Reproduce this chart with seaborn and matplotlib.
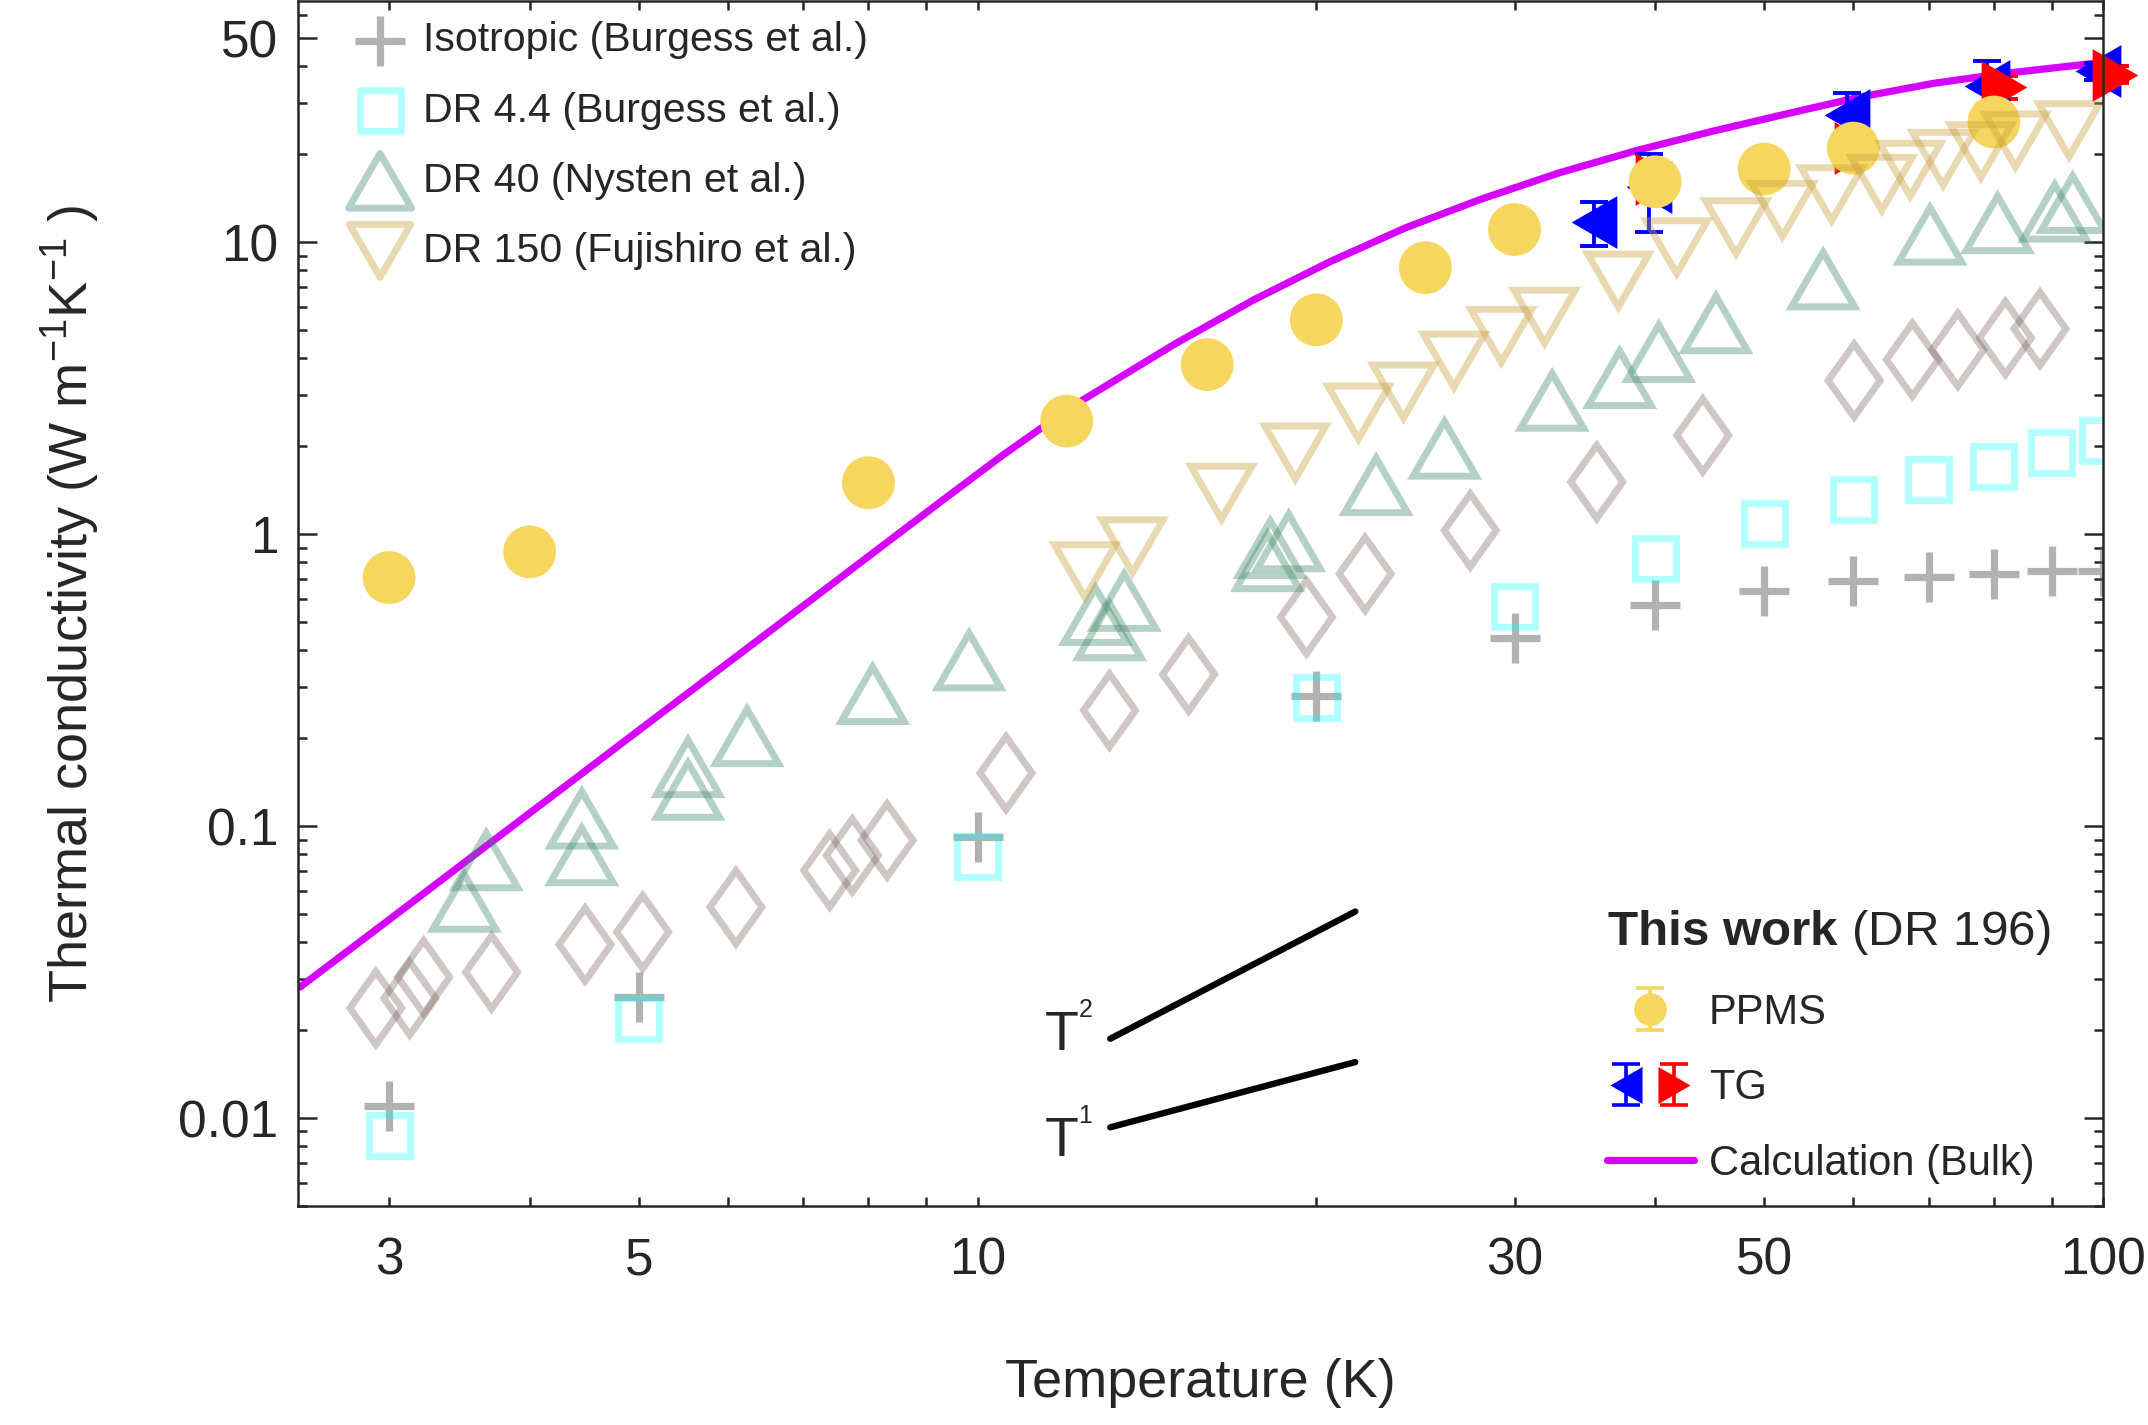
import numpy as np
import pandas as pd
import matplotlib
matplotlib.use("Agg")
import matplotlib.pyplot as plt
from matplotlib.path import Path
from matplotlib.legend_handler import HandlerTuple
from matplotlib.ticker import FixedLocator, FixedFormatter, NullFormatter
from matplotlib.container import ErrorbarContainer
from matplotlib.lines import Line2D
from matplotlib.collections import LineCollection
import seaborn as sns

# ---------------- data ----------------
iso_T = [3, 5, 10, 20, 30, 40, 50, 60, 70, 80, 90, 100]
iso_k = [0.011, 0.026, 0.092, 0.28, 0.44, 0.57, 0.64, 0.69, 0.715, 0.73, 0.745, 0.75]

dr44_T = [3, 5, 10, 20, 30, 40, 50, 60, 70, 80, 90, 100]
dr44_k = [0.0087, 0.022, 0.0786, 0.275, 0.565, 0.825, 1.09, 1.31, 1.54, 1.70, 1.91, 2.10]

dr40_T = [3.50, 3.66, 4.45, 4.45, 5.53, 5.53, 6.24, 8.07, 9.83, 12.73, 13.1, 13.5,
          18.1, 18.2, 18.9, 22.6, 26.0, 32.4, 37.2, 40.3, 45.3, 56.4, 70.2, 80.6, 90.6, 94.0]
dr40_k = [0.055, 0.0763, 0.0794, 0.106, 0.133, 0.159, 0.203, 0.283, 0.369, 0.528, 0.468, 0.59,
          0.807, 0.895, 0.944, 1.47, 1.96, 2.86, 3.42, 4.2, 5.27, 7.45, 10.6, 11.6, 12.7, 13.6]

dr150_T = [12.46, 13.73, 16.47, 19.16, 21.8, 23.9, 26.5, 29.2, 31.9, 37.1, 41.8, 47.2,
           51.9, 57.4, 63.6, 67.4, 72.1, 77.9, 83.6, 93.3]
dr150_k = [0.747, 0.909, 1.387, 1.905, 2.61, 3.08, 3.93, 4.78, 5.56, 7.39, 9.61, 11.26,
           12.9, 14.6, 15.85, 17.7, 19.3, 20.5, 22.3, 24.2]

dia_T = [2.92, 3.13, 3.22, 3.70, 4.48, 5.04, 6.10, 7.39, 7.74, 8.31, 10.6, 13.1, 15.4,
         19.6, 22.1, 27.4, 35.5, 44.1, 60.1, 67.7, 74.3, 81.9, 87.9]
dia_k = [0.0238, 0.0257, 0.0304, 0.0316, 0.0393, 0.0434, 0.0528, 0.0705, 0.0794, 0.0894,
         0.152, 0.249, 0.331, 0.52, 0.731, 1.03, 1.51, 2.18, 3.36, 3.96, 4.28, 4.7, 5.05]

ppms_T = [3, 4, 8, 12, 16, 20, 25, 30, 40, 50, 60, 80]
ppms_k = [0.71, 0.87, 1.50, 2.44, 3.81, 5.42, 8.18, 11.05, 16.1, 17.8, 21.0, 25.8]

tgb_T = [35.3, 39.5, 59.2, 78.9, 98.9]
tgb_k = [11.7, 15.4, 27.2, 34.4, 38.5]
tgb_err = [2.0, 4.6, 5.2, 7.5, 2.5]

tgr_T = [40.2, 60.4, 81.6, 102.4]
tgr_k = [16.5, 21.1, 34.0, 37.5]
tgr_err = [2.0, 2.5, 3.0, 2.5]

calc_T = [2.5, 3.0, 3.54, 4.26, 5.0, 5.83, 7.0, 7.97, 9.32, 10.5, 12.1, 15.0, 17.6,
          20.6, 24.0, 28.1, 32.9, 38.5, 45.0, 53.8, 60.8, 70.7, 81.0, 92.9, 100.0]
calc_k = [0.0281, 0.0478, 0.0776, 0.1332, 0.2128, 0.3332, 0.568, 0.830, 1.311, 1.85, 2.72,
          4.5, 6.35, 8.6, 11.2, 14.1, 17.3, 20.6, 24.0, 28.2, 31.4, 35.0, 37.7, 40.0, 41.3]

t2_T = [13.12, 21.66]
t2_k = [0.0187, 0.051]
t1_T = [13.12, 21.66]
t1_k = [0.0093, 0.01556]

xtick_vals = [3, 5, 10, 30, 50, 100]
xtick_labels = ["3", "5", "10", "30", "50", "100"]
ytick_vals = [0.01, 0.1, 1, 10, 50]
ytick_labels = ["0.01", "0.1", "1", "10", "50"]

# ---------------- style ----------------
sns.set_theme(style="ticks")
plt.rcParams["font.family"] = ["Liberation Sans", "DejaVu Sans"]
plt.rcParams["mathtext.fontset"] = "custom"
plt.rcParams["mathtext.rm"] = "Liberation Sans"
plt.rcParams["mathtext.it"] = "Liberation Sans:italic"
plt.rcParams["mathtext.bf"] = "Liberation Sans:bold"
plt.rcParams["axes.edgecolor"] = "0.15"

def closed(verts):
    return Path(verts + [verts[0]], closed=True)

tri_up = closed([(-1, -0.866), (1, -0.866), (0, 0.866)])
tri_down = closed([(-1, 0.866), (1, 0.866), (0, -0.866)])
tri_left = closed([(-0.866, 0), (0.866, 1), (0.866, -1)])
tri_right = closed([(0.866, 0), (-0.866, 1), (-0.866, -1)])
diamond = closed([(0, 1), (0.71, 0), (0, -1), (-0.71, 0)])

c_iso = (0.4, 0.4, 0.4)
c_44 = (0.0, 1.0, 1.0)
c_40 = (70 / 255, 140 / 255, 110 / 255)
c_150 = (200 / 255, 160 / 255, 60 / 255)
c_dia = (120 / 255, 95 / 255, 90 / 255)
c_ppms = (0.965, 0.84, 0.37)
c_calc = "#D500FF"

fig = plt.figure(figsize=(10.74, 7.125), dpi=200)
ax = fig.add_axes([0.13873, 0.15368, 0.84032, 0.84561])
ax.set_xscale("log")
ax.set_yscale("log")

# calculation curve (drawn first, under markers)
sns.lineplot(x=calc_T, y=calc_k, color=c_calc, linewidth=2.6, ax=ax, legend=False,
             sort=True, label="Calculation (Bulk)", zorder=0.8)
calc_line = ax.lines[-1]
calc_line.set_solid_joinstyle("round")

# guide lines
sns.lineplot(x=t2_T, y=t2_k, color="black", linewidth=2.3, ax=ax, legend=False, zorder=0.8)
sns.lineplot(x=t1_T, y=t1_k, color="black", linewidth=2.3, ax=ax, legend=False, zorder=0.8)

# this work: TG (error bars + triangles)
tgb = ax.errorbar(tgb_T, tgb_k, yerr=tgb_err, fmt="none", ecolor="blue", elinewidth=1.4,
                  capsize=5, capthick=1.4, clip_on=False, zorder=1.1)
tgr = ax.errorbar(tgr_T, tgr_k, yerr=tgr_err, fmt="none", ecolor="red", elinewidth=1.4,
                  capsize=5, capthick=1.4, clip_on=False, zorder=1.1)
for a in list(tgb.lines[1]) + list(tgb.lines[2]) + list(tgr.lines[1]) + list(tgr.lines[2]):
    a.set_clip_on(False)
ax.plot(tgb_T, tgb_k, linestyle="none", marker=tri_left, ms=19, color="blue",
        mec="none", clip_on=False, zorder=1.2)
ax.plot(tgr_T, tgr_k, linestyle="none", marker=tri_right, ms=19, color="red",
        mec="none", clip_on=False, zorder=1.3)

# this work: PPMS (opaque, over TG)
sns.scatterplot(x=ppms_T, y=ppms_k, marker="o", s=19 ** 2, color=c_ppms, edgecolor="none",
                ax=ax, legend=False, clip_on=False, zorder=1.5)

# literature data (semi-transparent, on top)
sns.scatterplot(x=iso_T, y=iso_k, marker="+", s=324, color=c_iso, alpha=0.5,
                linewidth=2.6, ax=ax, legend=False, label="Isotropic (Burgess et al.)", zorder=2)
h_iso = ax.collections[-1]
sns.scatterplot(x=dia_T, y=dia_k, marker=diamond, s=26.3 ** 2, color=c_dia, facecolor="none",
                edgecolor=c_dia, alpha=0.35, linewidth=2.5, joinstyle="miter", ax=ax,
                legend=False, zorder=2)
sns.scatterplot(x=dr40_T, y=dr40_k, marker=tri_up, s=22.7 ** 2, color=c_40, facecolor="none",
                edgecolor=c_40, alpha=0.4, linewidth=2.5, joinstyle="miter", ax=ax, legend=False,
                label="DR 40 (Nysten et al.)", zorder=2)
h_40 = ax.collections[-1]
sns.scatterplot(x=dr150_T, y=dr150_k, marker=tri_down, s=22.0 ** 2, color=c_150, facecolor="none",
                edgecolor=c_150, alpha=0.4, linewidth=2.5, joinstyle="miter", ax=ax, legend=False,
                label="DR 150 (Fujishiro et al.)", zorder=2)
h_150 = ax.collections[-1]
sns.scatterplot(x=dr44_T, y=dr44_k, marker="s", s=14.8 ** 2, color=c_44, facecolor="none",
                edgecolor=c_44, alpha=0.3, linewidth=2.5, joinstyle="miter", ax=ax, legend=False,
                label="DR 4.4 (Burgess et al.)", zorder=2)
h_44 = ax.collections[-1]

# legend proxies (marker + vertical error bar)
def eb_proxy(color, marker, ms, alpha=1.0):
    mk = Line2D([], [], linestyle="none", marker=marker, ms=ms, color=color, mec="none",
                alpha=alpha)
    cap = Line2D([], [], linestyle="none", marker="_", ms=10, mew=1.3, color=color, alpha=alpha)
    bar = LineCollection([], colors=[color], linewidths=1.3, alpha=alpha)
    return ErrorbarContainer((mk, (cap, cap), (bar,)), has_xerr=False, has_yerr=True)

p_ppms = eb_proxy(c_ppms, "o", 19)
p_b = eb_proxy("blue", tri_left, 21.5)
p_r = eb_proxy("red", tri_right, 21.5)

# ---------------- axes ----------------
ax.set_xlim(2.49, 100)
ax.set_ylim(0.005, 67)
ax.xaxis.set_major_locator(FixedLocator(xtick_vals))
ax.xaxis.set_major_formatter(FixedFormatter(xtick_labels))
xminor = [4, 6, 7, 8, 9, 20, 40, 60, 70, 80, 90]
ax.xaxis.set_minor_locator(FixedLocator(xminor))
ax.xaxis.set_minor_formatter(NullFormatter())
ax.yaxis.set_major_locator(FixedLocator(ytick_vals))
ax.yaxis.set_major_formatter(FixedFormatter(ytick_labels))
yminor = [m * 10.0 ** e for e in range(-3, 2) for m in range(2, 10)]
yminor = [v for v in yminor if 0.005 <= v <= 67 and abs(v - 50) > 1e-9]
ax.yaxis.set_minor_locator(FixedLocator(yminor))
ax.yaxis.set_minor_formatter(NullFormatter())

for sp in ax.spines.values():
    sp.set_visible(True)
    sp.set_linewidth(0.9)
    sp.set_color("0.15")
    sp.set_zorder(4)

ax.tick_params(which="both", direction="in", top=True, right=True, color="0.15",
               width=0.9, labelcolor="0.15", labelsize=18.5)
ax.tick_params(axis="x", which="both", length=3.3, pad=11)
ax.tick_params(axis="y", which="major", length=7, pad=7)
ax.tick_params(axis="y", which="minor", length=3.3)

ax.set_xlabel("Temperature (K)", fontsize=19.5, color="0.15", labelpad=26)
ax.set_ylabel("Thermal conductivity (W m$^{-1}$K$^{-1}$ )", fontsize=19.5, color="0.15",
              labelpad=27.5)

# T^n labels
ax.text(11.47, 0.0171, "T", fontsize=20, ha="left", va="baseline")
ax.annotate("2", xy=(11.47, 0.0171), xytext=(12.2, 12), textcoords="offset points",
            fontsize=9, ha="left", va="baseline")
ax.text(11.47, 0.00739, "T", fontsize=20, ha="left", va="baseline")
ax.annotate("1", xy=(11.47, 0.00739), xytext=(12.2, 12), textcoords="offset points",
            fontsize=9, ha="left", va="baseline")

# legends
leg1 = ax.legend(handles=[h_iso, h_44, h_40, h_150],
                 labels=["Isotropic (Burgess et al.)", "DR 4.4 (Burgess et al.)",
                         "DR 40 (Nysten et al.)", "DR 150 (Fujishiro et al.)"],
                 loc="upper left", bbox_to_anchor=(0.0227, 0.983), borderaxespad=0,
                 borderpad=0, frameon=False, fontsize=14.8, handlelength=2.0,
                 handletextpad=0.05, labelspacing=0.78, scatterpoints=1)
ax.add_artist(leg1)

leg2 = ax.legend(handles=[p_ppms, (p_b, p_r), calc_line],
                 labels=["PPMS", "TG", "Calculation (Bulk)"],
                 title=r"$\mathbf{This\ work}$ (DR 196)", title_fontsize=17.8, fontsize=15,
                 loc="upper left", bbox_to_anchor=(0.725, 0.247), borderaxespad=0,
                 borderpad=0, frameon=False, alignment="left", handlelength=2.1,
                 handletextpad=0.35, labelspacing=0.85, markerscale=0.62,
                 handler_map={tuple: HandlerTuple(ndivide=None, pad=0.2)})

# long tick at 50 on the x axis
for t in ax.xaxis.get_major_ticks():
    if abs(t.get_loc() - 50) < 1e-6:
        t.tick1line.set_markersize(7)
        t.tick2line.set_markersize(7)

fig.savefig("out.png", dpi=200)
